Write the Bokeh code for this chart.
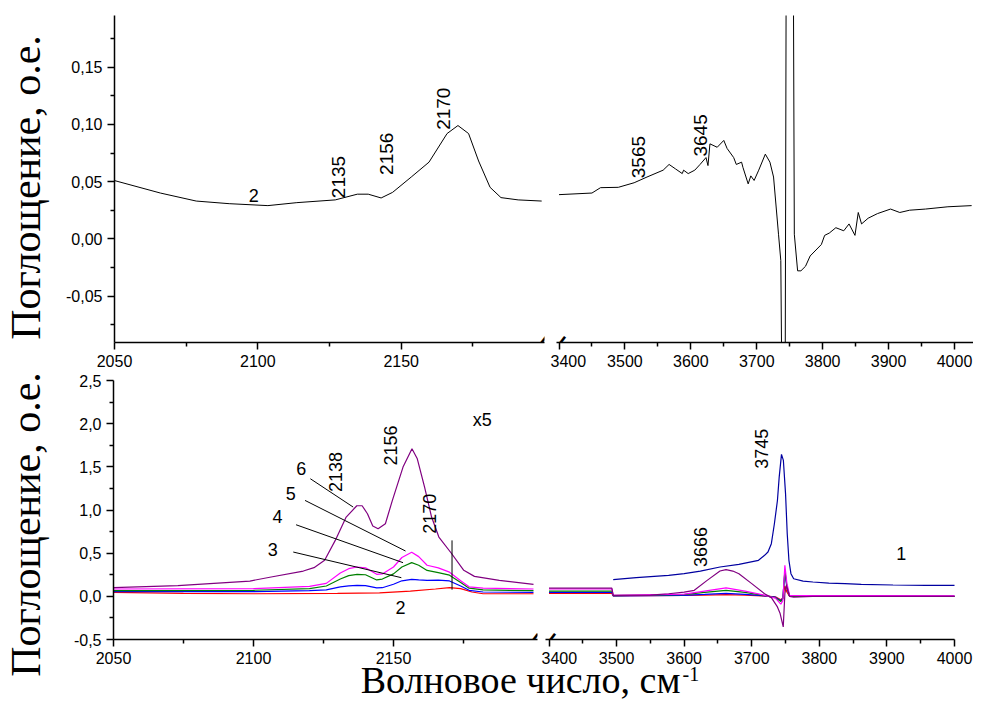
import math
from bokeh.plotting import figure
from bokeh.layouts import row, column
from bokeh.models import Range1d, FixedTicker, CustomJSTickFormatter, Label
from bokeh.embed import file_html
from bokeh.resources import INLINE

# ---------------- data ----------------
# top panel, curve 2 (black)
top_left_x = [2050, 2066, 2078.5, 2090, 2103.5, 2113.6, 2127, 2134.7, 2138.5, 2143, 2147, 2153.5,
              2159.7, 2166, 2169.8, 2173.5, 2177, 2181, 2184.8, 2190.8, 2199]
top_left_y = [0.0509, 0.040, 0.033, 0.0307, 0.029, 0.0316, 0.034, 0.039, 0.039, 0.0357, 0.0406, 0.054,
              0.067, 0.092, 0.099, 0.092, 0.068, 0.045, 0.036, 0.034, 0.033]
top_right_x = [3400, 3450, 3463, 3490, 3514, 3533.5, 3558, 3567, 3577, 3587, 3589, 3596, 3606, 3614, 3623,
               3626, 3629, 3640, 3650, 3655, 3665, 3669, 3677, 3679, 3687, 3691, 3696, 3703, 3713, 3720,
               3725.5, 3733, 3736.5, 3742, 3747, 3752, 3757, 3762, 3767, 3774, 3781, 3798, 3803, 3810, 3820,
               3832, 3840, 3849, 3854, 3859, 3869, 3883, 3903, 3917, 3932, 3956, 3990, 4026]
top_right_y = [0.0386, 0.040, 0.0447, 0.045, 0.049, 0.054, 0.060, 0.065, 0.061, 0.057, 0.060, 0.057, 0.060,
               0.065, 0.071, 0.064, 0.083, 0.080, 0.086, 0.079, 0.071, 0.065, 0.067, 0.0625, 0.048, 0.055,
               0.051, 0.060, 0.074, 0.067, 0.054, 0.004, -0.019, -0.40, 0.80, 0.80, 0.004, -0.028, -0.028,
               -0.024, -0.015, -0.005, 0.003, 0.005, 0.0097, 0.007, 0.013, 0.003, 0.023, 0.013, 0.018, 0.022,
               0.026, 0.023, 0.025, 0.026, 0.028, 0.029]

# bottom panel, left segment
c6_left_x = [2050, 2073, 2098.7, 2106.3, 2117.8, 2121.6, 2125.4, 2129.2, 2133.1, 2136.9, 2138.8, 2140.7,
             2142.6, 2144.5, 2147.1, 2149.6, 2153.4, 2156.6, 2158.5, 2161.1, 2163.6, 2166.2, 2170.6, 2175.1,
             2178.9, 2187.8, 2200]
c6_left_y = [0.100, 0.125, 0.177, 0.224, 0.293, 0.332, 0.417, 0.648, 0.918, 1.049, 1.049, 0.957, 0.814,
             0.783, 0.841, 1.111, 1.497, 1.709, 1.593, 1.265, 0.918, 0.687, 0.502, 0.301, 0.231, 0.185, 0.139]
c345_left_x = [2050, 2100, 2120, 2126, 2131, 2134, 2137, 2140, 2144, 2146, 2150, 2153, 2156.5, 2159, 2162,
               2166, 2170, 2174, 2177, 2182, 2200]
c5_left_y = [0.085, 0.09, 0.115, 0.15, 0.27, 0.32, 0.34, 0.33, 0.255, 0.26, 0.34, 0.45, 0.51, 0.46, 0.36,
             0.33, 0.28, 0.18, 0.11, 0.095, 0.085]
c4_left_y = [0.065, 0.07, 0.09, 0.12, 0.2, 0.24, 0.255, 0.25, 0.19, 0.2, 0.26, 0.34, 0.39, 0.36, 0.30,
             0.275, 0.245, 0.16, 0.095, 0.075, 0.065]
c3_left_y = [0.055, 0.055, 0.065, 0.075, 0.11, 0.122, 0.127, 0.125, 0.097, 0.10, 0.14, 0.18, 0.197, 0.19,
             0.185, 0.188, 0.178, 0.12, 0.07, 0.05, 0.045]
c2_left_x = [2050, 2075, 2100, 2130, 2145, 2156, 2165, 2170, 2174, 2178, 2182, 2200]
c2_left_y = [0.045, 0.035, 0.03, 0.035, 0.04, 0.06, 0.085, 0.1, 0.09, 0.05, 0.03, 0.03]

# bottom panel, right segment
c1_right_x = [3495, 3529, 3577, 3600, 3624, 3653, 3681, 3710, 3719, 3724, 3729, 3733.5, 3738, 3740.6, 3744,
              3746.8, 3750, 3752.5, 3755, 3758, 3762, 3776, 3790.5, 3814, 3838, 3862, 3909, 3957, 4000]
c1_right_y = [0.193, 0.216, 0.243, 0.262, 0.293, 0.34, 0.37, 0.417, 0.475, 0.513, 0.61, 0.841, 1.11, 1.381,
              1.644, 1.574, 1.19, 0.725, 0.417, 0.262, 0.204, 0.177, 0.166, 0.154, 0.147, 0.139, 0.131,
              0.127, 0.127]
c6_right_x = [3400, 3493, 3495, 3550, 3577, 3600, 3615, 3634, 3653, 3662, 3672, 3681, 3700, 3719, 3729, 3738,
              3742, 3746.6, 3749, 3751.3, 3756, 3762, 3790, 4000]
c6_right_y = [0.095, 0.095, 0.01, 0.015, 0.03, 0.048, 0.07, 0.185, 0.293, 0.309, 0.293, 0.262, 0.147, 0.031,
              -0.015, -0.123, -0.2, -0.355, 0.03, 0.127, 0.0, -0.01, 0.0, 0.0]
small_right_x = [3400, 3493, 3495, 3600, 3630, 3662, 3690, 3715, 3735, 3743, 3746, 3749, 3752, 3756, 4000]
c5_right_y = [0.085, 0.085, 0.01, 0.025, 0.06, 0.097, 0.06, 0.02, -0.02, -0.09, -0.05, 0.36, 0.15, 0.01, 0.005]
c4_right_y = [0.06, 0.06, 0.008, 0.02, 0.045, 0.07, 0.045, 0.015, -0.015, -0.06, -0.03, 0.30, 0.12, 0.0, 0.0]
c3_right_y = [0.045, 0.045, 0.005, 0.012, 0.022, 0.035, 0.022, 0.008, -0.01, -0.05, -0.02, 0.28, 0.10, 0.0, 0.0]
c2_right_y = [0.035, 0.035, 0.005, 0.01, 0.015, 0.02, 0.015, 0.005, -0.005, -0.04, -0.02, 0.12, 0.05, 0.0, 0.0]

# tick values
top_y_ticks = [-0.05, 0.0, 0.05, 0.10, 0.15]
top_y_minor = [-0.075, -0.025, 0.025, 0.075, 0.125, 0.175]
bot_y_ticks = [-0.5, 0.0, 0.5, 1.0, 1.5, 2.0, 2.5]
bot_y_minor = [-0.25, 0.25, 0.75, 1.25, 1.75, 2.25]
left_x_ticks = [2050, 2100, 2150]
left_x_minor = [2075, 2125, 2175]
right_x_ticks = [3400, 3500, 3600, 3700, 3800, 3900, 4000]
right_x_minor = [3450, 3550, 3650, 3750, 3850, 3950]

# annotations (text, x, y)
top_left_notes = [("2135", 2128.2, 0.054), ("2156", 2145.0, 0.0743), ("2170", 2164.9, 0.1137)]
top_right_notes = [("3565", 3521.3, 0.0714), ("3645", 3614.4, 0.0904)]
bl_rot_notes = [("2138", 2129.2, 1.439), ("2156", 2149.0, 1.748), ("2170", 2163.0, 0.957)]
bl_flat_notes = [("6", 2117.1, 1.485), ("5", 2113.3, 1.196), ("4", 2108.6, 0.93), ("3", 2106.9, 0.544),
                 ("2", 2152.5, -0.131), ("x5", 2181.7, 2.037)]
br_rot_notes = [("3666", 3624.3, 0.571), ("3745", 3714.6, 1.709)]
br_flat_notes = [("1", 3921.4, 0.494)]
# leader lines: x0, y0, x1, y1
lead_x0 = [2120.3, 2118.4, 2115.2, 2114.2, 2170.9]
lead_y0 = [1.362, 1.111, 0.829, 0.513, 0.648]
lead_x1 = [2135.6, 2154.3, 2153.4, 2152.8, 2170.9]
lead_y1 = [1.034, 0.525, 0.390, 0.216, 0.077]

# ---------------- layout geometry (canvas pixels) ----------------
COL0 = 50          # left edge of the panel column
TOP_H, BOT_H = 373, 296
XT_H, XT_OVERLAP = 60, 28
W_RIGHT = 973
H_ALL = TOP_H + BOT_H + XT_H - XT_OVERLAP
XT_TOP = TOP_H + BOT_H - XT_OVERLAP


def rng(px0, px1, v_at, px_at, ppu):
    return Range1d(v_at + (px0 - px_at) / ppu, v_at + (px1 - px_at) / ppu)


SANS = "Liberation Sans"
SERIF = "Liberation Serif"


def make_fig(x0, x1, fx0, fx1, h, xr, yr, show_y, bt, bb):
    p = figure(width=x1 - x0, height=h, x_range=xr, y_range=yr,
               output_backend="svg", toolbar_location=None,
               min_border_left=fx0 - x0, min_border_right=x1 - fx1,
               min_border_top=bt, min_border_bottom=bb,
               y_axis_location=("left" if show_y else None))
    p.grid.visible = False
    p.outline_line_color = None
    for ax in p.axis:
        ax.axis_line_width = 1.5
        ax.axis_line_color = "black"
        ax.major_tick_line_width = 1.5
        ax.minor_tick_line_width = 1.5
        ax.major_tick_line_color = "black"
        ax.minor_tick_line_color = "black"
        ax.major_tick_in = 0
        ax.major_tick_out = 7
        ax.minor_tick_in = 0
        ax.minor_tick_out = 4
        ax.major_label_text_font = SANS
        ax.major_label_text_font_size = "16px"
        ax.major_label_text_color = "black"
        ax.major_label_standoff = 5
    return p


TOP_PPU_L, TOP_PPU_R = 2.867, (954 - 558.5) / 600.0
BOT_PPU_L, BOT_PPU_R = 2.80, (954 - 548.5) / 600.0

top_yr = Range1d(-(342 - 238.3) / 1144.0, (238.3 - 15) / 1144.0)
tl = make_fig(COL0, 550, 114, 544, TOP_H, rng(114, 544, 2050, 114, TOP_PPU_L), top_yr, True, 15, 31)
tr = make_fig(550, W_RIGHT, 556, W_RIGHT, TOP_H, rng(556, W_RIGHT, 3400, 558.5, TOP_PPU_R), top_yr, False, 15, 31)
bot_yr = Range1d(-0.5, 2.5)
bl = make_fig(COL0, 541, 113, 537, BOT_H, rng(113, 537, 2050, 113, BOT_PPU_L), bot_yr, True, 7, 30)
br = make_fig(541, W_RIGHT, 545, W_RIGHT, BOT_H, rng(545, W_RIGHT, 3400, 548.5, BOT_PPU_R), bot_yr, False, 7, 30)

for p in (tl, bl):
    p.xaxis.ticker = FixedTicker(ticks=left_x_ticks, minor_ticks=left_x_minor)
for p in (tr, br):
    p.xaxis.ticker = FixedTicker(ticks=right_x_ticks, minor_ticks=right_x_minor)
br.xaxis.bounds = (br.x_range.start, 4000)
tl.yaxis.ticker = FixedTicker(ticks=top_y_ticks, minor_ticks=top_y_minor)
tl.yaxis.formatter = CustomJSTickFormatter(code="return tick.toFixed(2).replace('.', ',');")
bl.yaxis.ticker = FixedTicker(ticks=bot_y_ticks, minor_ticks=bot_y_minor)
bl.yaxis.formatter = CustomJSTickFormatter(code="return tick.toFixed(1).replace('.', ',');")

# curves
tl.line(top_left_x, top_left_y, line_color="black", line_width=1)
tr.line(top_right_x, top_right_y, line_color="black", line_width=1)

col = {"1": "#0000A0", "2": "#FF0000", "3": "#0000FF", "4": "#008000", "5": "#FF00FF", "6": "#800080"}
bl.line(c2_left_x, c2_left_y, line_color=col["2"], line_width=1.2)
bl.line(c345_left_x, c3_left_y, line_color=col["3"], line_width=1.2)
bl.line(c345_left_x, c4_left_y, line_color=col["4"], line_width=1.2)
bl.line(c345_left_x, c5_left_y, line_color=col["5"], line_width=1.2)
bl.line(c6_left_x, c6_left_y, line_color=col["6"], line_width=1.2)
bl.segment(lead_x0, lead_y0, lead_x1, lead_y1, line_color="black", line_width=1)

br.line(small_right_x, c2_right_y, line_color=col["2"], line_width=1.2)
br.line(small_right_x, c3_right_y, line_color=col["3"], line_width=1.2)
br.line(small_right_x, c4_right_y, line_color=col["4"], line_width=1.2)
br.line(small_right_x, c5_right_y, line_color=col["5"], line_width=1.2)
br.line(c6_right_x, c6_right_y, line_color=col["6"], line_width=1.2)
br.line(c1_right_x, c1_right_y, line_color=col["1"], line_width=1.2)


def note(p, t, x, y, rot, size):
    p.add_layout(Label(x=x, y=y, text=t, angle=(math.pi / 2 if rot else 0), text_align="center",
                       text_baseline="middle", text_font=SANS, text_font_size=size, text_color="black"))


for t, x, y in top_left_notes:
    note(tl, t, x, y, True, "19px")
note(tl, "2", 2098.6, 0.038, False, "18px")
for t, x, y in top_right_notes:
    note(tr, t, x, y, True, "19px")
for t, x, y in bl_rot_notes:
    note(bl, t, x, y, True, "18px")
for t, x, y in bl_flat_notes:
    note(bl, t, x, y, False, "18px")
for t, x, y in br_rot_notes:
    note(br, t, x, y, True, "18px")
for t, x, y in br_flat_notes:
    note(br, t, x, y, False, "18px")


# axis-break marks (only the part inside the frame shows)
def brk(p, px, ppu, px_at, v_at):
    x = v_at + (px - px_at) / ppu
    p.add_layout(Label(x=x, y=p.y_range.start, text="|", angle=-0.65, text_align="center",
                       text_baseline="middle", text_font=SANS, text_font_size="20px",
                       text_font_style="bold", text_color="black"))


brk(tl, 541, TOP_PPU_L, 114, 2050)
brk(tr, 560, TOP_PPU_R, 558.5, 3400)
brk(bl, 533, BOT_PPU_L, 113, 2050)
brk(br, 550, BOT_PPU_R, 548.5, 3400)


# blank figures holding the axis titles
def blank(w, h):
    p = figure(width=w, height=h, x_range=Range1d(0, w), y_range=Range1d(0, h), output_backend="svg",
               toolbar_location=None, min_border=0, x_axis_location=None, y_axis_location=None)
    p.grid.visible = False
    p.outline_line_color = None
    p.background_fill_color = None
    p.border_fill_color = None
    return p


yt = blank(COL0, H_ALL)
for cy in (187, 524):
    yt.add_layout(Label(x=25.5, y=H_ALL - cy, text="Поглощение, о.е.", angle=math.pi / 2,
                        text_align="center", text_baseline="middle", text_font=SERIF,
                        text_font_size="42px", text_color="black"))

# x title: overlaps (transparently) the bottom strip of the lower panels
xt = blank(W_RIGHT - COL0, XT_H)
xt.margin = (-XT_OVERLAP, 0, 0, 0)
xt.add_layout(Label(x=680 - COL0, y=XT_H - (679.5 - XT_TOP), text="Волновое число, см", text_align="right",
                    text_baseline="middle", text_font=SERIF, text_font_size="38px", text_color="black"))
xt.add_layout(Label(x=682 - COL0, y=XT_H - (673.5 - XT_TOP), text="-1", text_align="left",
                    text_baseline="middle", text_font=SERIF, text_font_size="20px", text_color="black"))

layout = row(yt, column(row(tl, tr), row(bl, br), xt))

open("out.html", "w").write(file_html(layout, INLINE))
